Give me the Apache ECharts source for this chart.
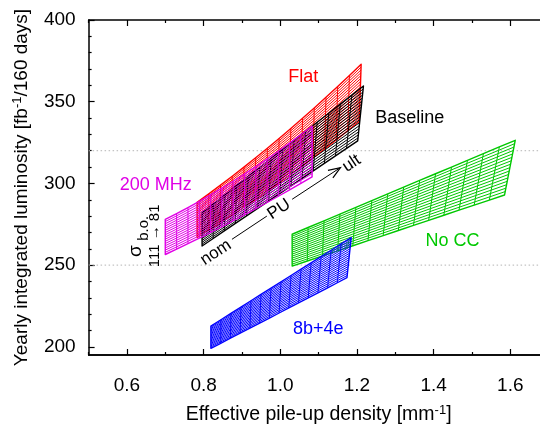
<!DOCTYPE html>
<html>
<head>
<meta charset="utf-8">
<script src="https://cdn.jsdelivr.net/npm/echarts@6/dist/echarts.min.js"></script>
<style>
  html, body { margin: 0; padding: 0; background: #ffffff; }
  #chart { width: 540px; height: 426px; }
</style>
</head>
<body>
<div id="chart"></div>
<script>
// ---- axis ticks ----
const xMajorTicks = [0.6, 0.8, 1.0, 1.2, 1.4, 1.6];
const xMinorTicks = [0.5, 0.7, 0.9, 1.1, 1.3, 1.5, 1.7];
const yMajorTicks = [200, 250, 300, 350, 400];
const yMinorTicks = [210, 220, 230, 240, 260, 270, 280, 290, 310, 320, 330, 340, 360, 370, 380, 390];
const referenceLevels = [250, 320];

// ---- scenario meshes ----
// [pile-up density, yearly luminosity] along the sigma = 111 mb edge (low) and the
// sigma = 81 mb edge (high), at nominal, intermediate and ultimate pile-up.
const baselineLow  = [[0.796, 261.7], [0.999, 293.9], [1.202, 326.0]];
const baselineHigh = [[0.796, 282.0], [1.006, 320.8], [1.217, 359.6]];
const flatLow      = [[0.783, 267.0], [0.995, 300.0], [1.206, 338.0]];
const flatHigh     = [[0.783, 288.4], [0.997, 327.5], [1.211, 372.9]];
const mhz200Low    = [[0.700, 256.5], [0.892, 279.0], [1.083, 304.0]];
const mhz200High   = [[0.700, 278.0], [0.892, 303.5], [1.083, 335.0]];
const noCCLow      = [[1.031, 249.4], [1.308, 271.2], [1.585, 292.9]];
const noCCHigh     = [[1.031, 268.9], [1.322, 297.7], [1.613, 326.4]];
const b8e4Low      = [[0.819, 199.1], [0.997, 220.7], [1.174, 242.3]];
const b8e4High     = [[0.819, 212.7], [1.002, 239.8], [1.185, 266.8]];

const scenarioNames  = ['Flat', 'Baseline', '200 MHz', 'No CC', '8b+4e'];
const scenarioLow    = [flatLow, baselineLow, mhz200Low, noCCLow, b8e4Low];
const scenarioHigh   = [flatHigh, baselineHigh, mhz200High, noCCHigh, b8e4High];
const scenarioColors = ['#ff0000', '#000000', '#e000e6', '#00c800', '#0000ff'];
const puSteps        = [14, 14, 13, 14, 14];   // pile-up levels from nominal to ultimate
const sigmaSteps     = [20, 18, 16, 16, 18];   // burn-off cross-section levels 111 -> 81 mb

// ---- annotations (data coordinates) ----
const puArrow = [[0.874, 265.8], [0.965, 280.0], [1.031, 290.3], [1.157, 309.7]];
const labelTexts  = ['Flat', 'Baseline', '200 MHz', 'No CC', '8b+4e', 'nom', 'PU', 'ult', 'σ', 'b.o.', '111 → 81'];
const labelPoints = [[1.060, 364.9], [1.338, 340.0], [0.675, 299.3], [1.449, 264.6], [1.099, 210.9],
                     [0.832, 257.7], [0.997, 284.2], [1.186, 312.2],
                     [0.622, 258.6], [0.643, 272.5], [0.672, 267.9]];
const labelColors = ['#ff0000', '#000000', '#e000e6', '#00c800', '#0000ff',
                     '#000000', '#000000', '#000000', '#000000', '#000000', '#000000'];
const labelSizes  = [18, 18, 18, 18, 18, 17, 17, 17, 19, 15, 15];
const labelAngles = [0, 0, 0, 0, 0, 33.5, 33.5, 33.5, 90, 90, 90];

const FONT = '"Liberation Sans", Arial, Helvetica, sans-serif';

// point on an edge given by three nodes at t = 0, 0.5, 1
function edgePoint(pts, t) {
  const l0 = 2 * (t - 0.5) * (t - 1);
  const l1 = -4 * t * (t - 1);
  const l2 = 2 * t * (t - 0.5);
  return [pts[0][0] * l0 + pts[1][0] * l1 + pts[2][0] * l2,
          pts[0][1] * l0 + pts[1][1] * l1 + pts[2][1] * l2];
}

function meshRenderer(k) {
  return function (params, api) {
    const low = scenarioLow[k], high = scenarioHigh[k];
    const nPU = puSteps[k], nS = sigmaSteps[k];
    const color = scenarioColors[k];
    const nodes = [];
    for (let i = 0; i <= nPU; i++) {
      const t = i / nPU;
      const a = edgePoint(low, t), b = edgePoint(high, t);
      const col = [];
      for (let j = 0; j <= nS; j++) {
        const s = j / nS;
        col.push(api.coord([a[0] + (b[0] - a[0]) * s, a[1] + (b[1] - a[1]) * s]));
      }
      nodes.push(col);
    }
    const hatch = { stroke: color, lineWidth: 1.0, fill: null };
    const rung = { stroke: color, lineWidth: 1.0, fill: null };
    const children = [];
    for (let j = 1; j < nS; j++) {
      const row = nodes.map(c => c[j]);
      children.push({ type: 'polyline', shape: { points: row }, style: hatch, silent: true });
    }
    for (let i = 1; i < nPU; i++) {
      children.push({ type: 'polyline', shape: { points: nodes[i] }, style: rung, silent: true });
    }
    const outline = []
      .concat(nodes.map(c => c[0]))
      .concat(nodes[nPU].slice(1))
      .concat(nodes.map(c => c[nS]).reverse().slice(1))
      .concat(nodes[0].slice().reverse().slice(1));
    children.push({ type: 'polygon', shape: { points: outline },
                    style: { stroke: color, lineWidth: 1.4, fill: null, lineJoin: 'round' }, silent: true });
    return { type: 'group', children: children };
  };
}

function arrowRenderer(params, api) {
  const p = puArrow.map(q => api.coord(q));
  const dx = p[3][0] - p[2][0], dy = p[3][1] - p[2][1];
  const len = Math.hypot(dx, dy);
  const ux = dx / len, uy = dy / len;
  const h = 12, w = 4.5;
  const back = [p[3][0] - ux * h, p[3][1] - uy * h];
  const left = [back[0] - uy * w, back[1] + ux * w];
  const right = [back[0] + uy * w, back[1] - ux * w];
  const st = { stroke: '#000', lineWidth: 1, fill: null };
  return {
    type: 'group',
    children: [
      { type: 'line', shape: { x1: p[0][0], y1: p[0][1], x2: p[1][0], y2: p[1][1] }, style: st },
      { type: 'line', shape: { x1: p[2][0], y1: p[2][1], x2: p[3][0], y2: p[3][1] }, style: st },
      { type: 'polyline', shape: { points: [left, p[3], right] }, style: { stroke: '#000', lineWidth: 1.2, fill: null } }
    ]
  };
}

function labelRenderer(params, api) {
  const i = params.dataIndex;
  const c = api.coord(labelPoints[i]);
  return {
    type: 'text',
    x: c[0], y: c[1],
    rotation: labelAngles[i] * Math.PI / 180,
    style: {
      text: labelTexts[i], fill: labelColors[i],
      fontSize: labelSizes[i], fontFamily: FONT,
      align: 'center', verticalAlign: 'middle'
    },
    silent: true
  };
}

const chart = echarts.init(document.getElementById('chart'), null, { renderer: 'canvas' });

const axisLineStyle = { show: true, onZero: false, lineStyle: { color: '#000', width: 1.5 } };
function xAxisCfg(position, ticks, length, labelled) {
  return {
    type: 'value', position: position, min: 0.5, max: 1.7,
    axisLine: labelled !== null ? axisLineStyle : { show: false },
    axisTick: { show: true, inside: true, length: length, customValues: ticks,
                lineStyle: { color: '#000', width: 1.2 } },
    axisLabel: labelled ? { show: true, customValues: xMajorTicks, formatter: v => Number(v).toFixed(1),
                            fontSize: 19, color: '#000', fontFamily: FONT, margin: 21 } : { show: false },
    splitLine: { show: false }
  };
}
function yAxisCfg(position, ticks, length, labelled) {
  return {
    type: 'value', position: position, min: 195, max: 400,
    axisLine: labelled !== null ? axisLineStyle : { show: false },
    axisTick: { show: true, inside: true, length: length, customValues: ticks,
                lineStyle: { color: '#000', width: 1.2 } },
    axisLabel: labelled ? { show: true, customValues: yMajorTicks,
                            fontSize: 19, color: '#000', fontFamily: FONT, margin: 13 } : { show: false },
    splitLine: { show: false }
  };
}

const xMain = xAxisCfg('bottom', xMajorTicks, 6, true);
xMain.name = 'Effective pile-up density [mm{sup|-1}]';
xMain.nameLocation = 'middle';
xMain.nameGap = 49;
xMain.nameTextStyle = { fontSize: 19.5, color: '#000', fontFamily: FONT, lineHeight: 22,
                        rich: { sup: { fontSize: 13, lineHeight: 13, verticalAlign: 'top', fontFamily: FONT, color: '#000' } } };
const yMain = yAxisCfg('left', yMajorTicks, 6, true);
yMain.name = 'Yearly integrated luminosity [fb{sup|-1}/160 days]';
yMain.nameLocation = 'middle';
yMain.nameGap = 56;
yMain.nameRotate = 90;
yMain.nameTextStyle = { fontSize: 19, color: '#000', fontFamily: FONT, lineHeight: 22,
                        rich: { sup: { fontSize: 13, lineHeight: 13, verticalAlign: 'top', fontFamily: FONT, color: '#000' } } };

const series = [];
referenceLevels.forEach(v => {
  series.push({
    type: 'line', data: [[0.5, v], [1.7, v]], showSymbol: false, symbol: 'none', silent: true, z: 1,
    lineStyle: { color: '#b4b4b4', width: 1, type: [1.5, 2.5] }
  });
});
scenarioNames.forEach((name, k) => {
  series.push({ type: 'custom', name: name, renderItem: meshRenderer(k), data: [[1, 300]], z: 2 + k, silent: true });
});
series.push({ type: 'custom', name: 'PU scan', renderItem: arrowRenderer, data: [[1, 300]], z: 10, silent: true });
series.push({ type: 'custom', name: 'labels', renderItem: labelRenderer,
              data: labelPoints.map(p => p.slice()), z: 11, silent: true });

chart.setOption({
  animation: false,
  backgroundColor: '#ffffff',
  grid: { left: 88.6, top: 20, width: 460, height: 335, containLabel: false, outerBoundsMode: 'none' },
  xAxis: [xMain, xAxisCfg('bottom', xMinorTicks, 3, false),
          xAxisCfg('top', xMajorTicks, 6, false), xAxisCfg('top', xMinorTicks, 3, null)],
  yAxis: [yMain, yAxisCfg('left', yMinorTicks, 3, null),
          yAxisCfg('right', yMajorTicks, 6, false), yAxisCfg('right', yMinorTicks, 3, null)],
  series: series
});
</script>
</body>
</html>
